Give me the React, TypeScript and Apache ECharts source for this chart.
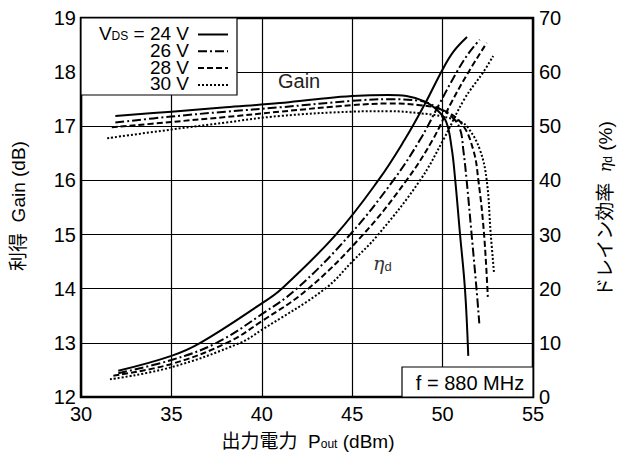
import React, { useEffect, useRef } from 'react';
import * as echarts from 'echarts';

const FONT = '"Liberation Sans", Arial, "Noto Sans CJK JP", sans-serif';

// X axis: output power Pout (dBm)
const xMin = 30;
const xMax = 55;
const xStep = 5;
// Left axis: gain (dB)
const gainMin = 12;
const gainMax = 19;
const gainStep = 1;
// Right axis: drain efficiency (%)
const effMin = 0;
const effMax = 70;
const effStep = 10;

const vdsLabels = ['24 V', '26 V', '28 V', '30 V'];

// Gain curves [Pout, gain dB]
const gain24 = [[31.9, 17.19], [35, 17.27], [38, 17.35], [41, 17.43], [43, 17.5], [45, 17.56], [47, 17.58], [48, 17.56], [49, 17.46], [49.7, 17.3], [50.2, 17.08], [50.5, 16.6], [50.7, 16.0], [50.96, 15.02], [51.24, 13.98], [51.42, 12.76]];
const gain26 = [[31.9, 17.07], [35, 17.18], [38, 17.27], [41, 17.35], [45, 17.47], [47, 17.5], [48.75, 17.47], [49.8, 17.33], [50.5, 17.18], [50.96, 16.95], [51.15, 16.55], [51.33, 16.0], [51.6, 15.02], [51.88, 13.98], [52.03, 13.36]];
const gain28 = [[31.7, 16.98], [35, 17.08], [38, 17.17], [41, 17.27], [45, 17.39], [47, 17.42], [48.75, 17.39], [50, 17.3], [51.05, 17.05], [51.7, 16.56], [51.98, 16.0], [52.29, 15.02], [52.5, 13.85]];
const gain30 = [[31.45, 16.78], [35, 16.94], [38, 17.07], [41, 17.19], [45, 17.27], [47, 17.28], [48.75, 17.24], [50, 17.18], [51.0, 17.08], [51.42, 16.97], [52.07, 16.56], [52.44, 16.0], [52.66, 15.02], [52.84, 14.31]];

// Drain efficiency curves [Pout, eta %]
const eff24 = [[32.06, 4.85], [35, 7.6], [36.6, 10], [40, 17.3], [41.1, 20], [44.1, 30], [46.44, 40], [47.9, 47.5], [49.0, 54], [50.0, 60.5], [50.6, 63.8], [51.35, 66.5]];
const eff26 = [[32.06, 4.4], [35, 6.83], [37.5, 10], [40, 15.3], [41.93, 20], [44.88, 30], [47.27, 40], [48.75, 47.5], [49.8, 54], [50.78, 60], [51.4, 63.3], [52.05, 66]];
const eff28 = [[31.79, 3.93], [35, 6.1], [38.06, 10], [40, 14], [42.57, 20], [45.6, 30], [48.0, 40], [49.45, 47.5], [50.5, 54.5], [51.43, 60], [52.44, 65.4]];
const eff30 = [[31.6, 3.26], [35, 5.5], [38.8, 10], [40, 12.4], [43.5, 20], [45, 25], [46.44, 30], [48.75, 40], [50.04, 47.5], [51.2, 55], [52.25, 60], [52.8, 63]];

const dashes: (number[] | 'solid')[] = ['solid', [9, 3, 2, 3], [6, 3], [2, 2]];

export default function App() {
  const ref = useRef<HTMLDivElement>(null);
  useEffect(() => {
    if (!ref.current) return;
    const chart = echarts.init(ref.current, null, { renderer: 'svg' });
    const gains = [gain24, gain26, gain28, gain30];
    const effs = [eff24, eff26, eff28, eff30];
    const series: any[] = [];
    gains.forEach((d, i) => {
      series.push({
        type: 'line', yAxisIndex: 0, data: d, showSymbol: false, smooth: 0.4,
        lineStyle: { color: '#000', width: 2, type: dashes[i], cap: 'butt' }, z: 3,
      });
    });
    effs.forEach((d, i) => {
      series.push({
        type: 'line', yAxisIndex: 1, data: d, showSymbol: false, smooth: 0.4,
        lineStyle: { color: '#000', width: 2, type: dashes[i], cap: 'butt' }, z: 3,
      });
    });

    const rowY = [33.5, 50.3, 67.1, 83.9];
    const legendEls: any[] = [
      { type: 'rect', shape: { x: 81, y: 18, width: 156, height: 77 }, style: { fill: '#fff', stroke: '#000', lineWidth: 1.2 }, z: 100 },
    ];
    vdsLabels.forEach((lab, i) => {
      legendEls.push({
        type: 'text', x: 189, y: rowY[i], z: 101,
        style: {
          text: i === 0 ? `V{s|DS} = ${lab}` : lab,
          align: 'right', verticalAlign: 'middle', fill: '#000', fontSize: 19, fontFamily: FONT,
          rich: { s: { fontSize: 12, fontFamily: FONT, fill: '#000', padding: [5, 0, 0, 0] } },
        },
      });
      const dash = dashes[i];
      legendEls.push({
        type: 'line', z: 101,
        shape: { x1: 198, y1: rowY[i] + 1, x2: 228, y2: rowY[i] + 1 },
        style: { stroke: '#000', lineWidth: 2, lineDash: dash === 'solid' ? null : dash },
      });
    });

    const option: any = {
      animation: false,
      backgroundColor: '#fff',
      grid: { left: 81, right: 86, top: 18, bottom: 69, show: true, borderColor: '#000', borderWidth: 2.5, backgroundColor: 'transparent' },
      xAxis: {
        type: 'value', min: xMin, max: xMax, interval: xStep,
        axisLine: { show: false }, axisTick: { show: false },
        axisLabel: { color: '#000', fontSize: 20, fontFamily: FONT, margin: 7 },
        splitLine: { show: true, lineStyle: { color: '#000', width: 1.2 } },
      },
      yAxis: [
        {
          type: 'value', min: gainMin, max: gainMax, interval: gainStep, position: 'left',
          axisLine: { show: false }, axisTick: { show: false },
          axisLabel: { color: '#000', fontSize: 20, fontFamily: FONT, margin: 5 },
          splitLine: { show: true, lineStyle: { color: '#000', width: 1.2 } },
        },
        {
          type: 'value', min: effMin, max: effMax, interval: effStep, position: 'right',
          axisLine: { show: false }, axisTick: { show: false },
          axisLabel: { color: '#000', fontSize: 20, fontFamily: FONT, margin: 6 },
          splitLine: { show: false },
        },
      ],
      series,
      graphic: [
        ...legendEls,
        {
          type: 'text', x: 278, y: 81, z: 50,
          style: { text: 'Gain', fontSize: 20, fontFamily: FONT, fill: '#222', verticalAlign: 'middle' },
        },
        {
          type: 'text', x: 373, y: 263, z: 50,
          style: {
            text: '{e|η}{s|d}', verticalAlign: 'middle', fill: '#333',
            rich: {
              e: { fontSize: 19, fontFamily: 'DejaVu Serif, serif', fontStyle: 'italic', fill: '#333' },
              s: { fontSize: 13, fontFamily: FONT, fill: '#333', padding: [6, 0, 0, 0] },
            },
          },
        },
        { type: 'rect', shape: { x: 402, y: 367, width: 131, height: 30 }, style: { fill: '#fff', stroke: '#000', lineWidth: 1.2 }, z: 100 },
        {
          type: 'text', x: 470, y: 383, z: 101,
          style: { text: 'f = 880 MHz', align: 'center', verticalAlign: 'middle', fontSize: 20, fontFamily: FONT, fill: '#000' },
        },
        {
          type: 'text', x: 308, y: 441,
          style: {
            text: '出力電力  P{s|out} (dBm)', align: 'center', verticalAlign: 'middle', fontSize: 19, fontFamily: FONT, fill: '#000',
            rich: { s: { fontSize: 12, fontFamily: FONT, fill: '#000', padding: [6, 0, 0, 0] } },
          },
        },
        {
          type: 'text', x: 18, y: 206, rotation: Math.PI / 2,
          style: { text: '利得  Gain (dB)', align: 'center', verticalAlign: 'middle', fontSize: 19, fontFamily: FONT, fill: '#000' },
        },
        {
          type: 'text', x: 605, y: 209, rotation: Math.PI / 2,
          style: {
            text: 'ドレイン効率  {e|η}{s|d} (%)', align: 'center', verticalAlign: 'middle', fontSize: 19, fontFamily: FONT, fill: '#000',
            rich: {
              e: { fontSize: 16, fontFamily: 'DejaVu Serif, serif', fontStyle: 'italic', fill: '#000' },
              s: { fontSize: 12, fontFamily: FONT, fill: '#000', padding: [6, 0, 0, 0] },
            },
          },
        },
      ],
    };
    chart.setOption(option);
    return () => chart.dispose();
  }, []);
  return (
    <div
      ref={ref}
      style={{ position: 'fixed', left: 0, top: 0, width: 619, height: 466, background: '#fff' }}
    />
  );
}
